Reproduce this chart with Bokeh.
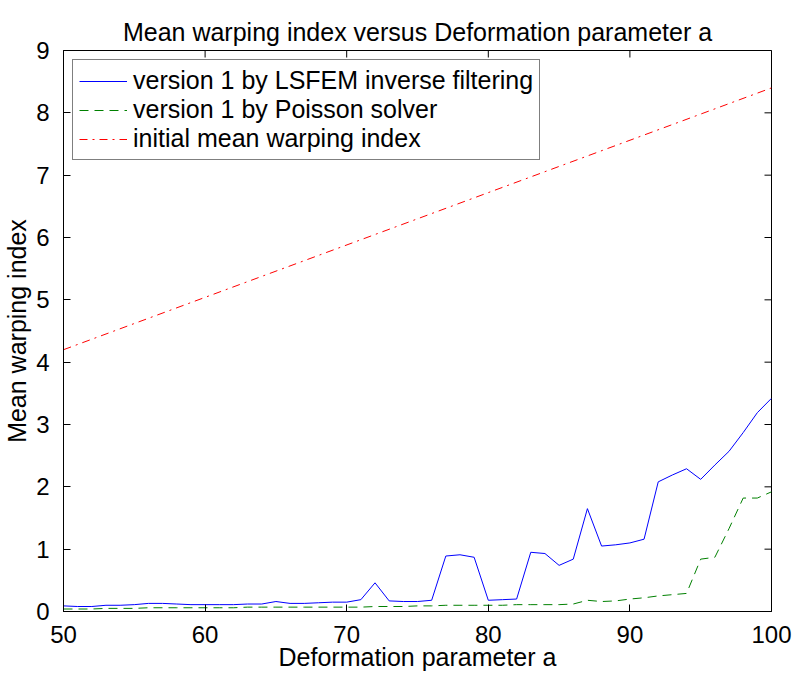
import math
from bokeh.plotting import figure
from bokeh.models import Legend, LegendItem, FixedTicker, Range1d
from bokeh.embed import file_html
from bokeh.resources import INLINE

# ---- data ----
a_values = list(range(50, 101))
lsfem = [0.09, 0.08, 0.08, 0.10, 0.10, 0.11, 0.13, 0.13, 0.12, 0.11,
         0.11, 0.11, 0.11, 0.12, 0.12, 0.16, 0.13, 0.13, 0.14, 0.15,
         0.15, 0.19, 0.46, 0.17, 0.16, 0.16, 0.18, 0.89, 0.91, 0.87,
         0.18, 0.19, 0.20, 0.95, 0.93, 0.74, 0.84, 1.65, 1.05, 1.07,
         1.10, 1.16, 2.08, 2.19, 2.29, 2.12, 2.35, 2.57, 2.87, 3.19,
         3.42]
poisson = [0.04, 0.04, 0.04, 0.05, 0.05, 0.05, 0.06, 0.06, 0.06, 0.06,
           0.06, 0.06, 0.06, 0.07, 0.07, 0.07, 0.07, 0.07, 0.07, 0.07,
           0.07, 0.07, 0.08, 0.08, 0.08, 0.09, 0.09, 0.10, 0.10, 0.10,
           0.10, 0.10, 0.11, 0.11, 0.11, 0.11, 0.12, 0.18, 0.16, 0.17,
           0.20, 0.22, 0.25, 0.27, 0.29, 0.84, 0.87, 1.33, 1.82, 1.82,
           1.92]
a_initial = [50, 100]
initial = [4.2, 8.4]

x_ticks = [50, 60, 70, 80, 90, 100]
y_ticks = [0, 1, 2, 3, 4, 5, 6, 7, 8, 9]
x_min, x_max = 50, 100
y_min, y_max = 0, 9

series_labels = ["version 1 by LSFEM inverse filtering",
                 "version 1 by Poisson solver",
                 "initial mean warping index"]

FONT = "Liberation Sans"

p = figure(width=795, height=673,
           x_range=Range1d(x_min, x_max), y_range=Range1d(y_min, y_max),
           output_backend="svg", toolbar_location=None,
           title="Mean warping index versus Deformation parameter a",
           min_border_left=62, min_border_right=24,
           min_border_top=50, min_border_bottom=62)

p.title.text_font = FONT
p.title.text_font_style = "normal"
p.title.text_font_size = "25px"
p.title.align = "center"
p.title.text_line_height = 0.6
p.title.text_color = "black"
p.title.standoff = 10

p.grid.visible = False
p.outline_line_color = "black"
p.outline_line_width = 1
p.outline_line_alpha = 1.0
p.background_fill_color = "white"
p.border_fill_color = "white"

p.xaxis.ticker = FixedTicker(ticks=x_ticks)
p.yaxis.ticker = FixedTicker(ticks=y_ticks)
p.xaxis.axis_label = "Deformation parameter a"
p.yaxis.axis_label = "Mean warping index"

for ax in [p.xaxis[0], p.yaxis[0]]:
    ax.major_tick_in = 7
    ax.major_tick_out = 0
    ax.minor_tick_in = 0
    ax.minor_tick_out = 0
    ax.axis_line_color = "black"
    ax.major_tick_line_color = "black"
    ax.major_label_text_font = FONT
    ax.major_label_text_font_size = "24px"
    ax.major_label_text_color = "black"
    ax.axis_label_text_font = FONT
    ax.axis_label_text_font_size = "25px"
    ax.axis_label_text_font_style = "normal"
    ax.axis_label_text_color = "black"
    ax.axis_label_standoff = 0

p.xaxis.major_label_standoff = 14
p.xaxis.axis_label_standoff = -3
p.yaxis.major_label_standoff = 14
p.yaxis.axis_label_standoff = 2

# inward ticks on the top and right edges of the box (clipped to the frame)
p.scatter(x_ticks, [y_max] * len(x_ticks), marker="dash", size=14,
          angle=math.pi / 2, line_color="black", line_width=1)
p.scatter([x_max] * len(y_ticks), y_ticks, marker="dash", size=14,
          line_color="black", line_width=1)

r1 = p.line(a_values, lsfem, line_color="#0000ff", line_width=1)
r2 = p.line(a_values, poisson, line_color="#008000", line_width=1, line_dash="9 6")
r3 = p.line(a_initial, initial, line_color="#ff0000", line_width=1, line_dash="8 5 2 5")

legend = Legend(items=[LegendItem(label=series_labels[0], renderers=[r1]),
                       LegendItem(label=series_labels[1], renderers=[r2]),
                       LegendItem(label=series_labels[2], renderers=[r3])],
                location="top_left", margin=9, padding=6, spacing=0,
                glyph_width=48, glyph_height=28, label_height=28,
                label_standoff=6,
                label_text_font=FONT, label_text_font_size="25px",
                label_text_color="black",
                border_line_color="black", border_line_width=1,
                background_fill_color="white", background_fill_alpha=1.0)
p.add_layout(legend, "center")

open("out.html", "w").write(file_html(p, INLINE))
